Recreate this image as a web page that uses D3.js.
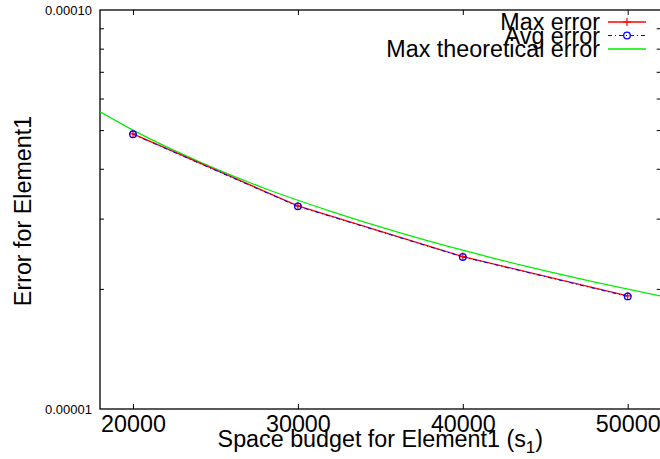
<html>
  <head>
    <script src="https://cdn.jsdelivr.net/npm/d3@7"></script>
    <style>
      body { margin: 0; background: #fff; }
      text { font-family: "Liberation Sans", Arial, sans-serif; fill: #000; }
    </style>
  </head>

  <body>
    <div id="chart"></div>
  </body>

  <script>
    // measured values
    let budgets = [20000, 30000, 40000, 50000]
    let maxError = [4.89e-5, 3.23e-5, 2.41e-5, 1.92e-5]
    let avgError = [4.88e-5, 3.22e-5, 2.405e-5, 1.915e-5]

    // theoretical bound
    let theoryBudgets = [18000, 20000, 24000, 28000, 32000, 36000, 40000, 44000, 48000, 52000]
    let theoryError = [5.56e-5, 5.0e-5, 4.17e-5, 3.57e-5, 3.13e-5, 2.78e-5, 2.5e-5, 2.27e-5, 2.08e-5, 1.92e-5]

    // ticks
    let xTicks = [20000, 30000, 40000, 50000]
    let yMajor = [1e-5, 1e-4]
    let yMajorLabels = ['0.00001', '0.00010']
    let yMinor = [2e-5, 3e-5, 4e-5, 5e-5, 6e-5, 7e-5, 8e-5, 9e-5]

    let seriesNames = ['Max error', 'Avg error', 'Max theoretical error']

    function drawChart () {
      let W = 660, H = 459
      let left = 100, right = 660.7, top = 10, bottom = 409
      let bigFont = 23.3

      let svg = d3.select('#chart').append('svg')
        .attr('width', W)
        .attr('height', H)

      let x = d3.scaleLinear().domain([18000, 52000]).range([left, right])
      let y = d3.scaleLog().domain([1e-5, 1e-4]).range([bottom, top])

      svg.append('clipPath').attr('id', 'plot-clip')
        .append('rect')
        .attr('x', left).attr('y', top)
        .attr('width', right - left).attr('height', bottom - top)

      // axes with inward ticks (gnuplot style)
      let axisStyle = (g) => {
        g.select('.domain').remove()
        g.selectAll('line').attr('stroke', '#000').attr('stroke-width', 1)
      }

      svg.append('g')
        .attr('transform', 'translate(0,' + bottom + ')')
        .call(d3.axisBottom(x).tickValues(xTicks).tickSize(-5).tickPadding(6).tickFormat(d3.format('d')))
        .call(axisStyle)
        .selectAll('text')
        .attr('font-size', bigFont)
        .attr('dy', '0.71em')

      svg.append('g')
        .attr('transform', 'translate(0,' + top + ')')
        .call(d3.axisTop(x).tickValues(xTicks).tickSize(-5).tickFormat(''))
        .call(axisStyle)

      svg.append('g')
        .attr('transform', 'translate(' + left + ',0)')
        .call(d3.axisLeft(y).tickValues(yMinor).tickSize(-4).tickFormat(''))
        .call(axisStyle)

      svg.append('g')
        .attr('transform', 'translate(' + right + ',0)')
        .call(d3.axisRight(y).tickValues(yMinor).tickSize(-4).tickFormat(''))
        .call(axisStyle)

      svg.append('g')
        .attr('transform', 'translate(' + left + ',0)')
        .call(d3.axisLeft(y).tickValues(yMajor).tickSize(0).tickPadding(8)
          .tickFormat((d, i) => yMajorLabels[i]))
        .call(axisStyle)
        .selectAll('text')
        .attr('font-size', 13)

      // border
      svg.append('rect')
        .attr('x', left).attr('y', top)
        .attr('width', right - left).attr('height', bottom - top)
        .attr('fill', 'none')
        .attr('stroke', '#000')
        .attr('stroke-width', 1.3)

      // axis titles
      let xTitle = svg.append('text')
        .attr('x', (left + right) / 2)
        .attr('y', 447)
        .attr('text-anchor', 'middle')
        .attr('font-size', bigFont)
      xTitle.append('tspan').text('Space budget for Element1 (s')
      xTitle.append('tspan').attr('font-size', 17).attr('dy', 6).text('1')
      xTitle.append('tspan').attr('dy', -6).text(')')

      svg.append('text')
        .attr('transform', 'translate(31,' + 211 + ') rotate(-90)')
        .attr('text-anchor', 'middle')
        .attr('font-size', bigFont)
        .text('Error for Element1')

      let plot = svg.append('g').attr('clip-path', 'url(#plot-clip)')

      let line = d3.line().x((d) => x(d[0])).y((d) => y(d[1]))
      let smooth = d3.line().x((d) => x(d[0])).y((d) => y(d[1])).curve(d3.curveMonotoneX)

      let theory = d3.zip(theoryBudgets, theoryError)
      let maxPts = d3.zip(budgets, maxError)
      let avgPts = d3.zip(budgets, avgError)

      plot.append('path')
        .datum(theory)
        .attr('d', smooth)
        .attr('fill', 'none')
        .attr('stroke', '#00ee00')
        .attr('stroke-width', 1.3)

      plot.append('path')
        .datum(maxPts)
        .attr('d', line)
        .attr('fill', 'none')
        .attr('stroke', '#ff0000')
        .attr('stroke-width', 1.3)

      plot.append('path')
        .datum(avgPts)
        .attr('d', line)
        .attr('fill', 'none')
        .attr('stroke', '#0000ff')
        .attr('stroke-width', 1)
        .attr('stroke-dasharray', '4,3,1,3')

      let plus = (g, px, py) => {
        g.append('path')
          .attr('d', 'M' + (px - 4) + ',' + py + 'H' + (px + 4) + 'M' + px + ',' + (py - 4) + 'V' + (py + 4))
          .attr('stroke', '#ff0000')
          .attr('stroke-width', 1.2)
          .attr('fill', 'none')
      }
      let circle = (g, px, py) => {
        g.append('circle')
          .attr('cx', px).attr('cy', py).attr('r', 3.3)
          .attr('fill', 'none')
          .attr('stroke', '#0000ff')
          .attr('stroke-width', 1.3)
      }

      maxPts.forEach((d) => plus(plot, x(d[0]), y(d[1])))
      avgPts.forEach((d) => circle(plot, x(d[0]), y(d[1])))

      // legend
      let rows = [22, 35.5, 49]
      let colors = ['#ff0000', '#0000ff', '#00ee00']
      let dashes = [null, '4,3,1,3', null]
      seriesNames.forEach((name, i) => {
        svg.append('text')
          .attr('x', 600)
          .attr('y', rows[i] + 8)
          .attr('text-anchor', 'end')
          .attr('font-size', bigFont)
          .text(name)
        svg.append('line')
          .attr('x1', 608).attr('x2', 646)
          .attr('y1', rows[i]).attr('y2', rows[i])
          .attr('stroke', colors[i])
          .attr('stroke-width', i == 1 ? 1 : 1.3)
          .attr('stroke-dasharray', dashes[i])
      })
      plus(svg, 627, rows[0])
      circle(svg, 627, rows[1])
    }

    drawChart()
  </script>
</html>
